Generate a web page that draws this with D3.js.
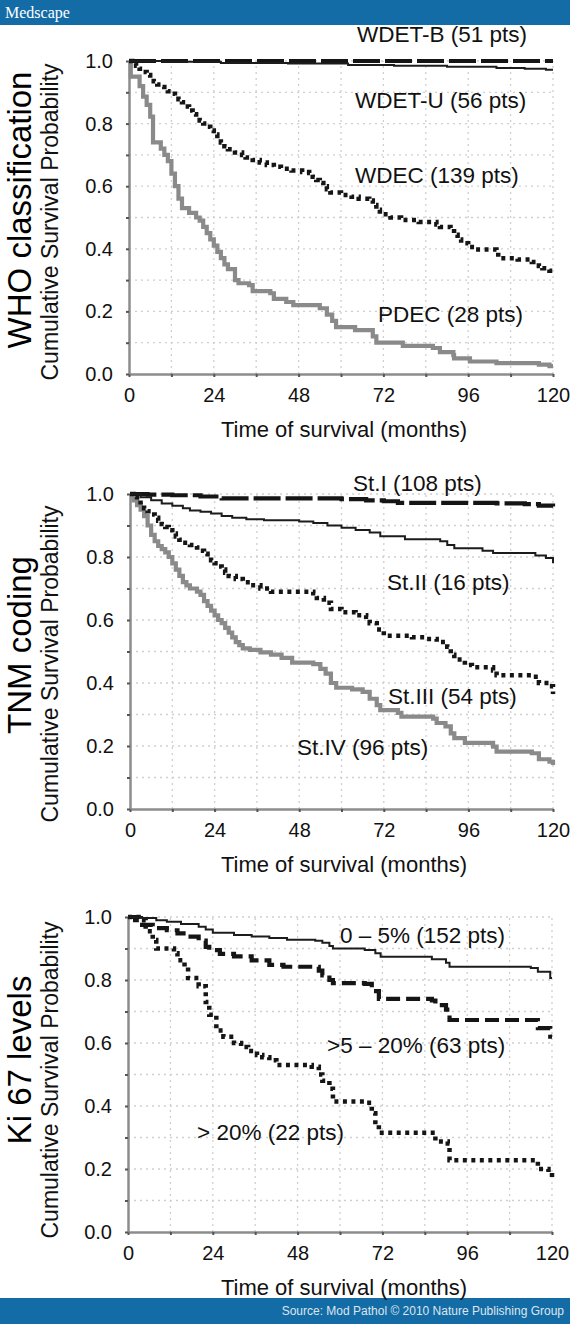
<!DOCTYPE html>
<html>
<head>
<meta charset="utf-8">
<script src="https://cdn.jsdelivr.net/npm/d3@7"></script>
<style>
  html, body { margin: 0; padding: 0; background: #fff; }
  svg { display: block; font-family: "Liberation Sans", Arial, sans-serif; }
</style>
</head>
<body>
<svg id="chart" width="570" height="1324"></svg>
<script>
// ---------------- DATA ----------------
const timeTicks = [0, 24, 48, 72, 96, 120];
const probTicks = [0, 0.2, 0.4, 0.6, 0.8, 1.0];
const panelTitles = ["WHO classification", "TNM coding", "Ki 67 levels"];
const yAxisTitle = "Cumulative Survival Probability";
const xAxisTitle = "Time of survival (months)";
const headerText = "Medscape";
const sourceText = "Source: Mod Pathol \u00A9 2010 Nature Publishing Group";

// Panel 1 — WHO classification  [month, survival]
const whoNames = ["WDET-B (51 pts)", "WDET-U (56 pts)", "WDEC (139 pts)", "PDEC (28 pts)"];
const wdetB = [[0,1],[120,1]];
const wdetU = [[0,1],[10,0.998],[26,0.994],[45,0.992],[62,0.987],[75,0.985],[90,0.982],[104,0.978],[112,0.975],[118,0.972],[120,0.972]];
const wdec = [[0,1],[1,0.993],[2,0.985],[3,0.975],[4,0.965],[5,0.955],[6,0.945],[7,0.935],[8,0.925],[9,0.917],[10,0.91],[11,0.903],[12,0.895],[13,0.887],[14,0.878],[15,0.868],[16,0.855],[17,0.842],[18,0.83],[19,0.82],[20,0.81],[21,0.8],[22,0.79],[23,0.778],[24,0.765],[25,0.752],[26,0.74],[27,0.728],[28,0.718],[30,0.708],[32,0.7],[33,0.692],[35,0.684],[37,0.676],[39,0.668],[41,0.662],[43,0.656],[46,0.65],[49,0.645],[51,0.642],[52,0.63],[53,0.62],[54,0.61],[55,0.6],[56,0.59],[57,0.58],[60,0.572],[63,0.566],[65,0.56],[68,0.554],[69,0.54],[70,0.525],[71,0.51],[74,0.5],[77,0.492],[82,0.486],[87,0.478],[88,0.47],[91,0.465],[92,0.445],[93,0.43],[94,0.418],[96,0.406],[98,0.398],[104,0.39],[104.5,0.37],[110,0.366],[114,0.358],[116,0.345],[117,0.338],[119,0.33],[120,0.325]];
const pdec = [[0,1],[0.5,0.95],[3,0.92],[4,0.886],[5,0.86],[6,0.822],[6.8,0.74],[9,0.72],[10,0.7],[11,0.68],[12,0.64],[13,0.6],[14,0.56],[15,0.53],[17,0.515],[19,0.5],[20,0.49],[21,0.47],[22,0.45],[23,0.43],[24,0.41],[25,0.39],[26,0.37],[27,0.35],[28,0.335],[30,0.3],[31,0.29],[34,0.284],[35,0.265],[40,0.258],[41,0.24],[44.5,0.23],[46.5,0.22],[54,0.21],[56,0.19],[57.5,0.17],[58.6,0.15],[64,0.14],[69,0.12],[70,0.1],[77.5,0.09],[86,0.083],[88,0.07],[91.8,0.06],[92,0.05],[96.5,0.04],[104,0.035],[116,0.03],[119,0.025],[120,0.025]];

// Panel 2 — TNM coding
const tnmNames = ["St.I (108 pts)", "St.II (16 pts)", "St.III (54 pts)", "St.IV (96 pts)"];
const stI = [[0,1],[5,0.998],[12,0.996],[20,0.992],[26,0.986],[60,0.984],[67,0.98],[72,0.977],[76,0.972],[104,0.97],[112,0.968],[116,0.963],[120,0.96]];
const stII = [[0,1],[3,0.99],[6,0.98],[9,0.97],[12,0.963],[15,0.955],[17,0.948],[20,0.944],[23,0.938],[26,0.93],[29,0.925],[33,0.92],[38,0.917],[48,0.913],[52,0.908],[56,0.9],[60,0.893],[64,0.886],[68,0.878],[71,0.866],[78,0.856],[88,0.85],[90,0.838],[92,0.828],[100,0.82],[103,0.813],[115,0.805],[118,0.797],[120,0.78]];
const stIII = [[0,1],[1,0.99],[2,0.98],[3,0.965],[4,0.955],[5,0.945],[6,0.935],[7,0.925],[8,0.915],[9,0.905],[10,0.895],[11,0.885],[12,0.875],[13,0.865],[14,0.855],[15,0.845],[17,0.838],[19,0.83],[20,0.82],[21,0.81],[22,0.8],[23,0.79],[24,0.78],[25,0.77],[26,0.76],[27,0.75],[28,0.74],[30,0.73],[32,0.72],[34,0.71],[37,0.7],[40,0.69],[52,0.685],[53,0.67],[55,0.655],[57,0.635],[60,0.625],[64,0.615],[67,0.61],[68,0.59],[70,0.57],[72,0.55],[80,0.545],[84,0.54],[87,0.53],[90,0.515],[91,0.49],[92,0.475],[95,0.457],[97,0.45],[103,0.44],[104,0.425],[114,0.42],[116,0.4],[119,0.39],[120,0.365]];
const stIV = [[0,1],[1,0.98],[2,0.965],[3,0.95],[4,0.93],[5,0.9],[6,0.87],[7,0.85],[8,0.835],[9,0.825],[10,0.815],[11,0.8],[12,0.78],[13,0.76],[14,0.74],[15,0.72],[16,0.71],[17,0.7],[19,0.69],[20,0.68],[21,0.66],[22,0.645],[23,0.63],[24,0.615],[25,0.6],[26,0.59],[27,0.575],[28,0.56],[29,0.545],[30,0.53],[31,0.52],[32,0.51],[34,0.505],[37,0.497],[40,0.49],[43,0.48],[46,0.465],[52,0.46],[54,0.445],[55.5,0.43],[57,0.4],[58.5,0.385],[63,0.38],[66,0.372],[68,0.35],[70,0.33],[71,0.314],[76,0.305],[77,0.293],[86,0.287],[87,0.273],[89.5,0.262],[91,0.24],[92,0.225],[95,0.21],[103,0.198],[104,0.182],[114,0.177],[116,0.158],[119,0.15],[120,0.14]];

// Panel 3 — Ki 67 levels
const kiNames = ["0 \u2013 5% (152 pts)", ">5 \u2013 20% (63 pts)", "> 20% (22 pts)"];
const kiLow = [[0,1],[4,0.997],[8,0.99],[11,0.985],[15,0.978],[20,0.969],[22,0.96],[24,0.95],[30,0.943],[35,0.938],[40,0.933],[45,0.928],[53,0.925],[55,0.918],[57,0.908],[58,0.9],[67,0.895],[70,0.885],[71.5,0.874],[86,0.866],[90,0.855],[91,0.842],[114,0.838],[116,0.826],[119.5,0.806],[120,0.806]];
const kiMid = [[0,1],[2,0.99],[4,0.975],[7,0.965],[11,0.958],[14,0.948],[17,0.938],[20,0.925],[22,0.905],[23,0.895],[26,0.883],[30,0.875],[35,0.862],[40,0.848],[44,0.842],[54,0.83],[55,0.815],[57,0.8],[58,0.79],[67,0.788],[69,0.765],[71,0.74],[86,0.735],[87,0.72],[90,0.706],[91,0.673],[114,0.673],[116,0.647],[119.5,0.62],[120,0.62]];
const kiHigh = [[0,1],[3,0.99],[5,0.955],[7,0.927],[8,0.9],[13,0.885],[14,0.863],[16,0.84],[17,0.806],[20,0.78],[22,0.73],[23,0.69],[25,0.64],[27,0.62],[30,0.6],[32,0.587],[34,0.575],[36.5,0.562],[38,0.555],[40,0.545],[42,0.53],[52,0.525],[54,0.5],[55,0.48],[57,0.455],[58,0.414],[67.5,0.41],[69,0.377],[70,0.34],[71,0.315],[86,0.315],[87,0.287],[90.5,0.281],[91,0.228],[114,0.228],[116,0.2],[119,0.19],[120,0.165]];

// ---------------- STYLES ----------------
const styles = {
  gray:   { stroke: "#8a8a8a", width: 4.2, dash: null },
  thin:   { stroke: "#1c1c1c", width: 2,   dash: null },
  dotted: { stroke: "#151515", width: 4.5, dash: "4,4.5" },
  longDash: { stroke: "#151515", width: 4.2, dash: "27,5" },
  midDash:  { stroke: "#151515", width: 4.2, dash: "14,6" }
};

// ---------------- LAYOUT ----------------
const panels = [
  { title: panelTitles[0], titleY: 210, yTitleY: 222,
    x0: 129, x1: 553, yTop: 61, yBot: 374,
    series: [
      { data: pdec,  style: styles.gray },
      { data: wdec,  style: styles.dotted },
      { data: wdetB, style: styles.longDash },
      { data: wdetU, style: styles.thin }
    ],
    labels: [
      { text: whoNames[0], x: 357, y: 42 },
      { text: whoNames[1], x: 355, y: 108 },
      { text: whoNames[2], x: 355, y: 183 },
      { text: whoNames[3], x: 378, y: 322 }
    ] },
  { title: panelTitles[1], titleY: 645, yTitleY: 664,
    x0: 130, x1: 553, yTop: 494, yBot: 809,
    series: [
      { data: stIV,  style: styles.gray },
      { data: stIII, style: styles.dotted },
      { data: stI,   style: styles.longDash },
      { data: stII,  style: styles.thin }
    ],
    labels: [
      { text: tnmNames[0], x: 353, y: 491 },
      { text: tnmNames[1], x: 387, y: 590 },
      { text: tnmNames[2], x: 388, y: 704 },
      { text: tnmNames[3], x: 297, y: 755 }
    ] },
  { title: panelTitles[2], titleY: 1060, yTitleY: 1080,
    x0: 128, x1: 552, yTop: 917, yBot: 1232,
    series: [
      { data: kiHigh, style: styles.dotted },
      { data: kiMid,  style: styles.midDash },
      { data: kiLow,  style: styles.thin }
    ],
    labels: [
      { text: kiNames[0], x: 340, y: 943 },
      { text: kiNames[1], x: 327, y: 1053 },
      { text: kiNames[2], x: 197, y: 1140 }
    ] }
];

const svg = d3.select("#chart");

// header & footer
svg.append("rect").attr("x", 0).attr("y", 0).attr("width", 570).attr("height", 25).attr("fill", "#136ca6");
svg.append("text").attr("x", 5).attr("y", 18)
  .attr("font-family", "'Liberation Serif', 'DejaVu Serif', serif")
  .attr("font-size", 16).attr("fill", "#fff").text(headerText);
svg.append("rect").attr("x", 0).attr("y", 1298).attr("width", 570).attr("height", 26).attr("fill", "#136ca6");
svg.append("text").attr("x", 564).attr("y", 1315).attr("text-anchor", "end")
  .attr("font-size", 12).attr("fill", "#dde6ef").text(sourceText);

const gridMonths = d3.range(12, 121, 12);
const gridProbs = d3.range(1, 11).map(d => d / 10);
const minorMonths = d3.range(0, 121, 12);
const minorProbs = d3.range(0, 11).map(d => d / 10);

panels.forEach(p => {
  const x = d3.scaleLinear().domain([0, 120]).range([p.x0, p.x1]);
  const y = d3.scaleLinear().domain([0, 1]).range([p.yBot, p.yTop]);
  const g = svg.append("g");

  // grid
  g.append("g").selectAll("line").data(gridMonths).join("line")
    .attr("x1", d => x(d)).attr("x2", d => x(d))
    .attr("y1", y(0)).attr("y2", y(1))
    .attr("stroke", "#cfcfcf").attr("stroke-width", 1.3).attr("stroke-dasharray", "2,4");
  g.append("g").selectAll("line").data(gridProbs).join("line")
    .attr("x1", x(0)).attr("x2", x(120))
    .attr("y1", d => y(d)).attr("y2", d => y(d))
    .attr("stroke", "#cfcfcf").attr("stroke-width", 1.3).attr("stroke-dasharray", "2,4");

  // axes
  const xAxis = d3.axisBottom(x).tickValues(minorMonths)
    .tickFormat(d => timeTicks.includes(d) ? String(d) : "")
    .tickSize(3).tickSizeOuter(0).tickPadding(11);
  const yAxis = d3.axisLeft(y).tickValues(minorProbs)
    .tickFormat(d => probTicks.some(v => Math.abs(v - d) < 1e-9) ? d3.format(".1f")(d) : "")
    .tickSize(3).tickSizeOuter(0).tickPadding(13);

  const gx = g.append("g").attr("transform", `translate(0,${y(0)})`).call(xAxis);
  const gy = g.append("g").attr("transform", `translate(${x(0)},0)`).call(yAxis);
  [gx, gy].forEach(a => {
    a.select(".domain").attr("stroke", "#8c8c8c").attr("stroke-width", 2.5);
    a.selectAll(".tick line").attr("stroke", "#555").attr("stroke-width", 2);
    a.selectAll(".tick text").attr("font-size", 20).attr("fill", "#111")
      .attr("font-family", "'Liberation Sans', Arial, sans-serif");
  });

  // curves
  const line = d3.line().x(d => x(d[0])).y(d => y(d[1])).curve(d3.curveStepAfter);
  p.series.forEach(s => {
    g.append("path").attr("d", line(s.data))
      .attr("fill", "none")
      .attr("stroke", s.style.stroke)
      .attr("stroke-width", s.style.width)
      .attr("stroke-dasharray", s.style.dash)
      .attr("stroke-linejoin", "miter");
  });

  // labels
  p.labels.forEach(l => {
    g.append("text").attr("x", l.x).attr("y", l.y)
      .attr("font-size", 22.5).attr("fill", "#111").text(l.text);
  });

  // axis titles
  g.append("text").attr("x", 344).attr("y", y(0) + 63).attr("text-anchor", "middle")
    .attr("font-size", 22).attr("fill", "#111").text(xAxisTitle);
  g.append("text").attr("transform", `translate(58,${p.yTitleY}) rotate(-90)`)
    .attr("text-anchor", "middle").attr("font-size", 23).attr("fill", "#111").text(yAxisTitle);
  g.append("text").attr("transform", `translate(31,${p.titleY}) rotate(-90)`)
    .attr("text-anchor", "middle").attr("font-size", 33).attr("fill", "#000").text(p.title);
});
</script>
</body>
</html>
